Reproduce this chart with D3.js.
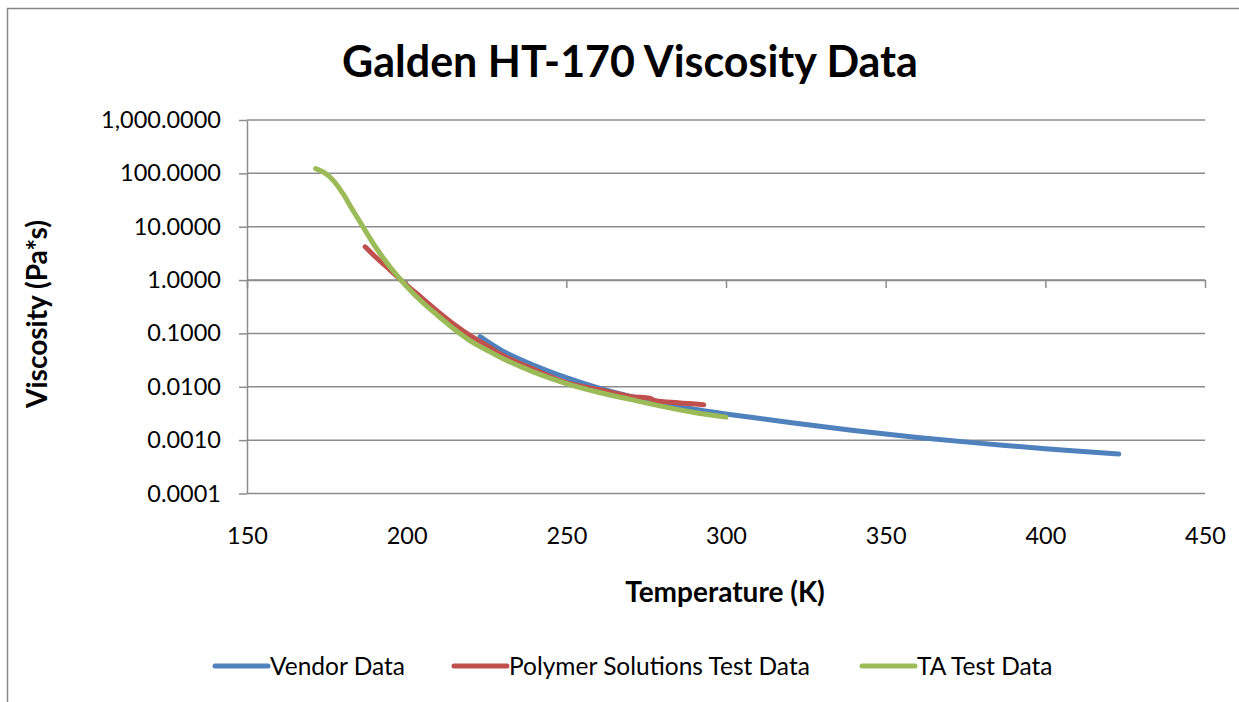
<!DOCTYPE html>
<html>
<head>
<meta charset="utf-8">
<script src="https://cdn.jsdelivr.net/npm/d3@7"></script>
<style>
  body { margin: 0; background: #fff; }
  svg { display: block; font-family: Lato, "Open Sans", sans-serif; }
  .tick text { font-size: 23.5px; fill: #000; }
</style>
</head>
<body>
<div id="chart"></div>
<script>
// Temperature (K) / viscosity (Pa*s)
const vendorTemp = [223, 230, 240, 250, 260, 270, 280, 290, 300, 320, 340, 360, 380, 400, 423];
const vendorVisc = [0.087, 0.047, 0.025, 0.0148, 0.0095, 0.0066, 0.0049, 0.0038, 0.0031, 0.00214, 0.00151, 0.00112, 0.00087, 0.00069, 0.00055];

const polyTemp = [187, 190, 195, 200, 205, 210, 215, 220, 225, 230, 240, 250, 260, 270, 276, 278, 285, 293];
const polyVisc = [4.2, 2.8, 1.5, 0.80, 0.45, 0.25, 0.145, 0.090, 0.060, 0.039, 0.021, 0.012, 0.0089, 0.0066, 0.0061, 0.0055, 0.0050, 0.0046];

const taTemp = [171.5, 174, 177, 180, 183, 186, 190, 195, 200, 205, 210, 215, 220, 225, 230, 240, 250, 260, 270, 280, 290, 300];
const taVisc = [123, 105, 74, 42, 21, 10.7, 4.4, 1.7, 0.76, 0.38, 0.21, 0.118, 0.072, 0.049, 0.034, 0.0186, 0.0115, 0.0079, 0.0058, 0.0043, 0.0033, 0.0027];

const xTicks = [150, 200, 250, 300, 350, 400, 450];
const yTicks = [0.0001, 0.001, 0.01, 0.1, 1, 10, 100, 1000];

const seriesNames = ["Vendor Data", "Polymer Solutions Test Data", "TA Test Data"];
const seriesColors = ["#4F81BD", "#C0504D", "#9BBB59"];

const width = 1239, height = 702;
const svg = d3.select("#chart").append("svg")
  .attr("width", width)
  .attr("height", height);

// Outer chart border
svg.append("path")
  .attr("d", "M7.5," + height + "V8.5H" + width)
  .attr("fill", "none")
  .attr("stroke", "#868686")
  .attr("stroke-width", 1.5);

const x = d3.scaleLinear().domain([150, 450]).range([247, 1205]);
const y = d3.scaleLog().domain([0.0001, 1000]).range([493.5, 120]);

// Horizontal gridlines
svg.append("g")
  .selectAll("line")
  .data(yTicks)
  .enter().append("line")
  .attr("x1", x(150))
  .attr("x2", x(450))
  .attr("y1", d => y(d))
  .attr("y2", d => y(d))
  .attr("stroke", "#8c8c8c")
  .attr("stroke-width", 1.5);

// Y axis
const yAxis = svg.append("g")
  .attr("transform", "translate(" + x(150) + ",0)")
  .call(d3.axisLeft(y).tickValues(yTicks).tickFormat(d3.format(",.4f")).tickSizeInner(8).tickSizeOuter(0).tickPadding(18));
yAxis.selectAll("path, line").attr("stroke", "#8c8c8c").attr("stroke-width", 1.5);
yAxis.selectAll("text").attr("font-family", "Lato, sans-serif");

// X axis crosses at 1.0, labels sit at the bottom
const xAxis = svg.append("g")
  .attr("transform", "translate(0," + y(1) + ")")
  .call(d3.axisBottom(x).tickValues(xTicks).tickSizeInner(8).tickSizeOuter(0));
xAxis.selectAll("path, line").attr("stroke", "#8c8c8c").attr("stroke-width", 1.5);
xAxis.selectAll("text")
  .attr("y", y(0.0001) - y(1) + 34)
  .attr("font-family", "Lato, sans-serif");

// Lines
const line = d3.line()
  .x(d => x(d[0]))
  .y(d => y(d[1]))
  .curve(d3.curveCatmullRom.alpha(0.5));

const series = [
  d3.zip(vendorTemp, vendorVisc),
  d3.zip(polyTemp, polyVisc),
  d3.zip(taTemp, taVisc)
];

series.forEach(function(data, i) {
  svg.append("path")
    .datum(data)
    .attr("fill", "none")
    .attr("stroke", seriesColors[i])
    .attr("stroke-width", 5)
    .attr("stroke-linecap", "round")
    .attr("stroke-linejoin", "round")
    .attr("d", line);
});

// Title
svg.append("text")
  .attr("x", 630)
  .attr("y", 77)
  .attr("text-anchor", "middle")
  .attr("font-size", 43)
  .attr("font-weight", "bold")
  .text("Galden HT-170 Viscosity Data");

// Axis titles
svg.append("text")
  .attr("transform", "translate(47,314) rotate(-90)")
  .attr("text-anchor", "middle")
  .attr("font-size", 28)
  .attr("font-weight", "bold")
  .text("Viscosity (Pa*s)");

svg.append("text")
  .attr("x", 725)
  .attr("y", 602)
  .attr("text-anchor", "middle")
  .attr("font-size", 28)
  .attr("font-weight", "bold")
  .text("Temperature (K)");

// Legend
const legendX = [213, 452, 860];
const legend = svg.append("g")
  .selectAll("g")
  .data(seriesNames)
  .enter().append("g")
  .attr("transform", (d, i) => "translate(" + legendX[i] + ",666)");

legend.append("line")
  .attr("x1", 2)
  .attr("x2", 55)
  .attr("stroke", (d, i) => seriesColors[i])
  .attr("stroke-width", 5)
  .attr("stroke-linecap", "round");

legend.append("text")
  .attr("x", 57)
  .attr("y", 9)
  .attr("font-size", 24.5)
  .text(d => d);
</script>
</body>
</html>
